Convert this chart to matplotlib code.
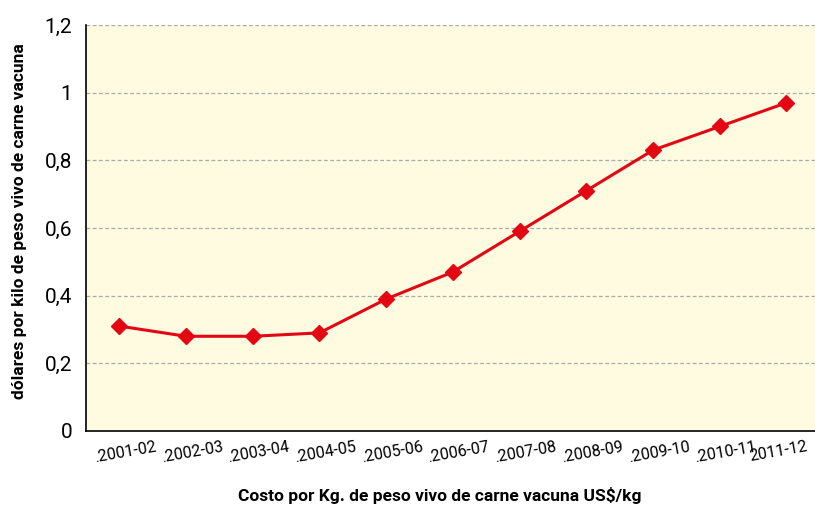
import matplotlib
matplotlib.use("Agg")
import matplotlib.pyplot as plt
from matplotlib.ticker import FuncFormatter

campanas = [".2001-02", ".2002-03", ".2003-04", ".2004-05", ".2005-06", ".2006-07",
            ".2007-08", ".2008-09", ".2009-10", ".2010-11", "2011-12"]
costo = [0.31, 0.28, 0.28, 0.29, 0.39, 0.47, 0.59, 0.71, 0.83, 0.90, 0.97]
y_ticks = [0, 0.2, 0.4, 0.6, 0.8, 1.0, 1.2]

plt.rcParams['font.family'] = ['Roboto', 'DejaVu Sans']

fig = plt.figure(figsize=(8.15, 5.09), dpi=100)
ax = fig.add_axes([86 / 815, (509 - 431) / 509, (815 - 86) / 815, (431 - 25) / 509])
ax.set_facecolor('#fefbe1')

x = list(range(len(campanas)))
ax.plot(x, costo, color='#e30613', linewidth=2.2, marker='D', markersize=8, zorder=3)

ax.set_xlim(-0.5, 10.43)
ax.set_ylim(0, 1.2)
ax.set_yticks(y_ticks)
ax.yaxis.set_major_formatter(FuncFormatter(lambda v, p: f"{v:g}".replace('.', ',')))

# labels sit a little right of each point, the last one a bit to the left
tick_pos = [i + 0.1 for i in x[:-1]] + [x[-1] - 0.12]
ax.set_xticks(tick_pos)
ax.set_xticklabels(campanas, rotation=10, fontsize=11.5, ha='center')
ax.tick_params(axis='x', length=0, pad=6)
ax.tick_params(axis='y', length=0, labelsize=15, pad=10)

ax.grid(axis='y', color='#aaaaaa', linestyle=(0, (3, 2)), linewidth=0.9)
ax.set_axisbelow(True)
for s in ['top', 'right']:
    ax.spines[s].set_visible(False)
ax.spines['left'].set_linewidth(1.2)
ax.spines['bottom'].set_linewidth(1.2)

fig.text(440 / 815, 1 - 496 / 509, "Costo por Kg. de peso vivo de carne vacuna US$/kg",
         ha='center', va='center', fontsize=12.5, fontweight='bold')
fig.text(20 / 815, 1 - 221 / 509, "dólares por kilo de peso vivo de carne vacuna",
         ha='center', va='center', rotation=90, fontsize=12.5, fontweight='bold')

fig.savefig("out.png", dpi=100)
